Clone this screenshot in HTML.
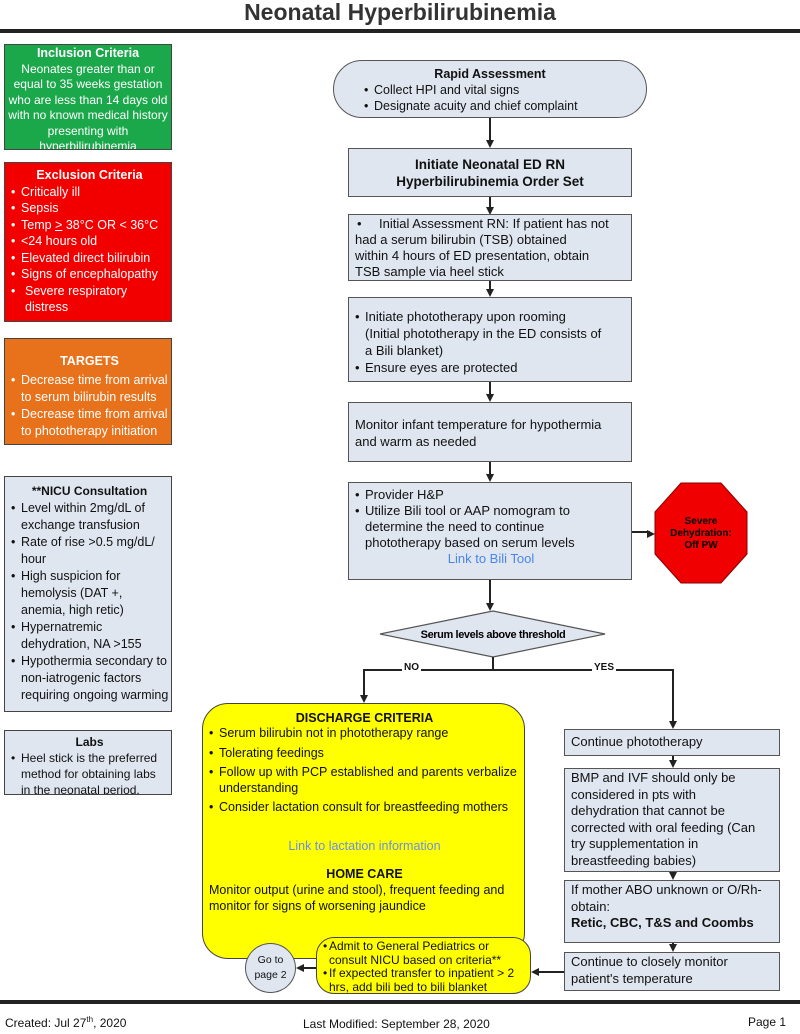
<!DOCTYPE html>
<html><head><meta charset="utf-8"><style>
*{box-sizing:border-box;margin:0;padding:0}
body{width:800px;height:1034px;position:relative;background:#fff;font-family:"Liberation Sans",Arial,sans-serif;font-size:13px;color:#111;overflow:hidden}
.a{position:absolute}
.bx{position:absolute;background:#dfe6f0;border:1.5px solid #555;line-height:16px;padding:3px 6px;white-space:nowrap;font-size:13px}
.l{position:absolute;background:#222}
.ul{list-style:none}
.ul li{padding-left:10px;position:relative}
.ul li:before{content:"•";position:absolute;left:0;top:0}
.arr{position:absolute;width:0;height:0;border-left:4px solid transparent;border-right:4px solid transparent;border-top:8px solid #222}
.arl{position:absolute;width:0;height:0;border-top:4px solid transparent;border-bottom:4px solid transparent;border-right:8px solid #222}
.side{position:absolute;left:4px;width:168px;border:1.5px solid #444;line-height:15px;font-size:12px;white-space:nowrap;overflow:hidden}
.side h4{text-align:center;font-size:12px}
</style></head><body>
<div class="a" style="left:0;top:-1px;width:800px;text-align:center;font-size:23px;font-weight:bold;color:#333">Neonatal Hyperbilirubinemia</div>
<div class="l" style="left:0;top:29px;width:800px;height:4px"></div>

<div class="side" style="top:44px;height:106px;background:#1ba84b;color:#fff;text-align:center;padding:1px 0;font-size:12px;line-height:15.5px"><h4 style="font-size:12.5px">Inclusion Criteria</h4>Neonates greater than or<br>equal to 35 weeks gestation<br>who are less than 14 days old<br>with no known medical history<br>presenting with<br>hyperbilirubinemia</div>
<div class="side" style="top:162px;height:160px;background:#f20000;color:#fff;padding:4px 3px 0 6px;line-height:16.5px;font-size:12.5px"><h4 style="font-size:12.5px">Exclusion Criteria</h4><ul class="ul"><li>Critically ill</li><li>Sepsis</li><li>Temp <u>&gt;</u> 38°C OR &lt; 36°C</li><li>&lt;24 hours old</li><li>Elevated direct bilirubin</li><li>Signs of encephalopathy</li><li style="padding-left:14px">Severe respiratory<br>distress</li></ul></div>
<div class="side" style="top:338px;height:107px;background:#e8721c;color:#fff;padding:14px 3px 0 6px;line-height:17px;font-size:12.5px"><h4 style="font-size:12.5px;margin-bottom:2px">TARGETS</h4><ul class="ul"><li>Decrease time from arrival<br>to serum bilirubin results</li><li>Decrease time from arrival<br>to phototherapy initiation</li></ul></div>
<div class="side" style="top:476px;height:236px;background:#dfe6f0;padding:6px 3px 0 6px;line-height:17px;font-size:12.5px"><h4>**NICU Consultation</h4><ul class="ul"><li>Level within 2mg/dL of<br>exchange transfusion</li><li>Rate of rise &gt;0.5 mg/dL/<br>hour</li><li>High suspicion for<br>hemolysis (DAT +,<br>anemia, high retic)</li><li>Hypernatremic<br>dehydration, NA &gt;155</li><li>Hypothermia secondary to<br>non-iatrogenic factors<br>requiring ongoing warming</li></ul></div>
<div class="side" style="top:730px;height:65px;background:#dfe6f0;padding:3px 3px 0 6px;line-height:16px"><h4>Labs</h4><ul class="ul"><li>Heel stick is the preferred<br>method for obtaining labs<br>in the neonatal period.</li></ul></div>

<div class="bx" style="left:333px;top:60px;width:314px;height:58px;border-radius:29px;padding:5px 0 0 30px;font-size:12.5px"><div style="text-align:center;font-weight:bold;margin-left:-30px">Rapid Assessment</div><ul class="ul"><li>Collect HPI and vital signs</li><li>Designate acuity and chief complaint</li></ul></div>
<div class="l" style="left:489px;top:118px;width:1.5px;height:24px"></div><div class="arr" style="left:486px;top:140px"></div>
<div class="bx" style="left:348px;top:148px;width:284px;height:49px;text-align:center;font-weight:bold;font-size:13.5px;line-height:17px;padding-top:7px">Initiate Neonatal ED RN<br>Hyperbilirubinemia Order Set</div>
<div class="l" style="left:489px;top:197px;width:1.5px;height:12px"></div><div class="arr" style="left:486px;top:207px"></div>
<div class="bx" style="left:348px;top:214px;width:284px;height:67px;padding:1px 4px 0 6px"><span class="a" style="left:8px">•</span><span style="margin-left:24px">Initial Assessment RN: If patient has not</span><br>had a serum bilirubin (TSB) obtained<br>within 4 hours of ED presentation, obtain<br>TSB sample via heel stick</div>
<div class="l" style="left:489px;top:281px;width:1.5px;height:10px"></div><div class="arr" style="left:486px;top:289px"></div>
<div class="bx" style="left:348px;top:297px;width:284px;height:85px;padding:10px 4px 0 6px;line-height:17px"><ul class="ul"><li>Initiate phototherapy upon rooming<br>(Initial phototherapy in the ED consists of<br>a Bili blanket)</li><li>Ensure eyes are protected</li></ul></div>
<div class="l" style="left:489px;top:382px;width:1.5px;height:14px"></div><div class="arr" style="left:486px;top:394px"></div>
<div class="bx" style="left:348px;top:402px;width:284px;height:60px;padding:13px 6px 0 6px;line-height:17px">Monitor infant temperature for hypothermia<br>and warm as needed</div>
<div class="l" style="left:489px;top:462px;width:1.5px;height:14px"></div><div class="arr" style="left:486px;top:474px"></div>
<div class="bx" style="left:348px;top:482px;width:284px;height:98px;padding:4px 4px 0 6px"><ul class="ul"><li>Provider H&amp;P</li><li>Utilize Bili tool or AAP nomogram to<br>determine the need to continue<br>phototherapy based on serum levels</li></ul><div style="text-align:center;color:#4a86e8">Link to Bili Tool</div></div>
<div class="l" style="left:632px;top:531px;width:18px;height:1.5px"></div>
<div class="a" style="left:647px;top:530px;width:0;height:0;border-top:4px solid transparent;border-bottom:4px solid transparent;border-left:8px solid #222"></div>
<svg class="a" style="left:654px;top:482px" width="94" height="102"><polygon points="27,1 67,1 93,30 93,72 67,101 27,101 1,72 1,30" fill="#f00000" stroke="#800" stroke-width="1"/><text x="47" y="42" text-anchor="middle" font-size="10" font-weight="bold" font-family="Liberation Sans">Severe</text><text x="47" y="54" text-anchor="middle" font-size="10" font-weight="bold" font-family="Liberation Sans">Dehydration:</text><text x="47" y="66" text-anchor="middle" font-size="10" font-weight="bold" font-family="Liberation Sans">Off PW</text></svg>
<div class="l" style="left:489px;top:580px;width:1.5px;height:24px"></div><div class="arr" style="left:486px;top:603px"></div>
<svg class="a" style="left:379px;top:610px" width="228" height="48"><polygon points="1,24 114,1 226,24 114,47" fill="#dfe6f0" stroke="#555" stroke-width="1.2"/><text x="114" y="28" text-anchor="middle" font-size="11" font-weight="bold" font-family="Liberation Sans" letter-spacing="-0.4">Serum levels above threshold</text></svg>
<div class="l" style="left:492px;top:657px;width:1.5px;height:12px"></div>
<div class="l" style="left:363px;top:669px;width:310px;height:1.5px"></div>
<div class="a" style="left:402px;top:662px;background:#fff;font-size:10px;font-weight:bold;padding:0 2px">NO</div>
<div class="a" style="left:592px;top:662px;background:#fff;font-size:10px;font-weight:bold;padding:0 2px">YES</div>
<div class="l" style="left:363px;top:669px;width:1.5px;height:28px"></div><div class="arr" style="left:360px;top:695px"></div>
<div class="l" style="left:672px;top:669px;width:1.5px;height:54px"></div><div class="arr" style="left:669px;top:721px"></div>

<div class="a" style="left:202px;top:703px;width:323px;height:256px;background:#ffff00;border:1.5px solid #444;border-radius:26px;padding:6px 4px 0 6px;line-height:16px;white-space:nowrap;font-size:12.5px"><div style="text-align:center;font-weight:bold">DISCHARGE CRITERIA</div><ul class="ul" style="line-height:15.5px"><li style="margin-bottom:4px">Serum bilirubin not in phototherapy range</li><li style="margin-bottom:4px">Tolerating feedings</li><li style="margin-bottom:4px">Follow up with PCP established and parents verbalize<br>understanding</li><li>Consider lactation consult for breastfeeding mothers</li></ul><div style="text-align:center;color:#6a8ee8;margin-top:22px">Link to lactation information</div><div style="text-align:center;font-weight:bold;margin-top:12px">HOME CARE</div><div>Monitor output (urine and stool), frequent feeding and<br>monitor for signs of worsening jaundice</div></div>

<div class="bx" style="left:564px;top:729px;width:216px;height:27px;padding-top:4px">Continue phototherapy</div>
<div class="l" style="left:672px;top:756px;width:1.5px;height:6px"></div><div class="arr" style="left:669px;top:760px"></div>
<div class="bx" style="left:564px;top:768px;width:216px;height:104px;padding:1px 4px 0 6px;line-height:16.5px">BMP and IVF should only be<br>considered in pts with<br>dehydration that cannot be<br>corrected with oral feeding (Can<br>try supplementation in<br>breastfeeding babies)</div>
<div class="l" style="left:672px;top:872px;width:1.5px;height:2px"></div><div class="arr" style="left:669px;top:872px"></div>
<div class="bx" style="left:564px;top:880px;width:216px;height:63px;padding:1px 4px 0 6px;line-height:16.5px">If mother ABO unknown or O/Rh-<br>obtain:<br><b style="font-size:13px">Retic, CBC, T&amp;S and Coombs</b></div>
<div class="l" style="left:672px;top:943px;width:1.5px;height:3px"></div><div class="arr" style="left:669px;top:944px"></div>
<div class="bx" style="left:564px;top:952px;width:216px;height:39px;padding:1px 4px 0 6px;line-height:16.5px">Continue to closely monitor<br>patient's temperature</div>
<div class="l" style="left:538px;top:971px;width:26px;height:1.5px"></div><div class="arl" style="left:531px;top:968px"></div>
<div class="a" style="left:316px;top:937px;width:215px;height:57px;background:#ffff00;border:1.5px solid #444;border-radius:18px;padding:2px 4px 0 6px;line-height:13.5px;font-size:12px;white-space:nowrap"><ul class="ul"><li style="padding-left:6px">Admit to General Pediatrics or<br>consult NICU based on criteria**</li><li style="padding-left:6px">If expected transfer to inpatient &gt; 2<br>hrs, add bili bed to bili blanket</li></ul></div>
<div class="l" style="left:303px;top:967px;width:13px;height:1.5px"></div><div class="arl" style="left:296px;top:964px"></div>
<div class="a" style="left:245px;top:943px;width:51px;height:50px;border-radius:50%;background:#dfe6f0;border:1.5px solid #555;text-align:center;font-size:10.5px;line-height:15px;padding-top:9px">Go to<br>page 2</div>

<div class="l" style="left:0;top:1000px;width:800px;height:4px"></div>
<div class="a" style="left:5px;top:1015px;font-size:12px">Created: Jul 27<sup style="font-size:8px">th</sup>, 2020</div>
<div class="a" style="left:303px;top:1017px;font-size:12px">Last Modified: September 28, 2020</div>
<div class="a" style="left:748px;top:1015px;font-size:12px">Page 1</div>
</body></html>
